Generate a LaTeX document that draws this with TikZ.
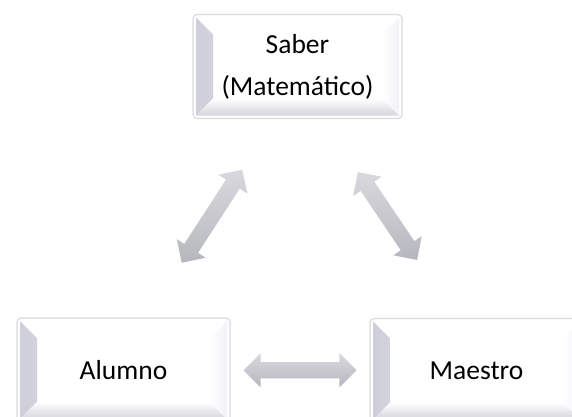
\documentclass[tikz,border=0pt]{standalone}
\usepackage{fontspec}
\setmainfont{Carlito}
\usetikzlibrary{shapes.arrows,calc}
\definecolor{boxline}{RGB}{218,218,224}
\definecolor{bevl}{RGB}{206,206,218}
\definecolor{bevb}{RGB}{212,212,220}
\definecolor{bevr}{RGB}{242,242,246}
\definecolor{arrtop}{RGB}{216,216,222}
\definecolor{arrmid}{RGB}{200,200,206}
\definecolor{arrbot}{RGB}{182,182,190}
\tikzset{
  x=1pt, y=1pt,
  bevelbox/.style={draw=boxline, line width=1.2pt, rounded corners=4pt, fill=white,
    minimum width=#1, minimum height=104pt, inner sep=0pt, align=center,
    font=\fontsize{27.5}{42}\selectfont,
    path picture={
      \shade[sharp corners, left color=bevl, right color=white]
        ([shift={(3pt,3pt)}]path picture bounding box.south west) --
        ([shift={(3pt,-3pt)}]path picture bounding box.north west) --
        ([shift={(20pt,-20pt)}]path picture bounding box.north west) --
        ([shift={(20pt,20pt)}]path picture bounding box.south west) -- cycle;
      \shade[sharp corners, top color=white, bottom color=bevb]
        ([shift={(3pt,3pt)}]path picture bounding box.south west) --
        ([shift={(20pt,20pt)}]path picture bounding box.south west) --
        ([shift={(-20pt,20pt)}]path picture bounding box.south east) --
        ([shift={(-3pt,3pt)}]path picture bounding box.south east) -- cycle;
      \shade[sharp corners, left color=white, right color=bevr]
        ([shift={(-3pt,3pt)}]path picture bounding box.south east) --
        ([shift={(-20pt,20pt)}]path picture bounding box.south east) --
        ([shift={(-20pt,-20pt)}]path picture bounding box.north east) --
        ([shift={(-3pt,-3pt)}]path picture bounding box.north east) -- cycle;
    }},
  bevelbox/.default=213pt,
  blockarrow/.style={double arrow, draw=none, inner xsep=0pt, inner ysep=8pt,
    double arrow head extend=9pt,
    top color=arrtop, bottom color=arrbot, middle color=arrmid,
    minimum height=#1},
}
\begin{document}
\begin{tikzpicture}
\useasboundingbox (0,0) rectangle (572,416);
\node[bevelbox=209pt] (saber) at (297.5,349.5) {Saber\\(Matemático)};
\node[bevelbox] (alumno) at (123.5,46) {Alumno};
\node[bevelbox] (maestro) at (476.5,45.5) {Maestro};
\node[blockarrow=111pt, rotate=57] (a1) at ($(saber)!0.5!(alumno)+(1.5,2)$) {};
\node[blockarrow=106pt, rotate=-56] (a2) at ($(saber)!0.5!(maestro)+(0.5,2.5)$) {};
\node[blockarrow=113pt] (a3) at ($(alumno)!0.5!(maestro)$) {};
\end{tikzpicture}
\end{document}
